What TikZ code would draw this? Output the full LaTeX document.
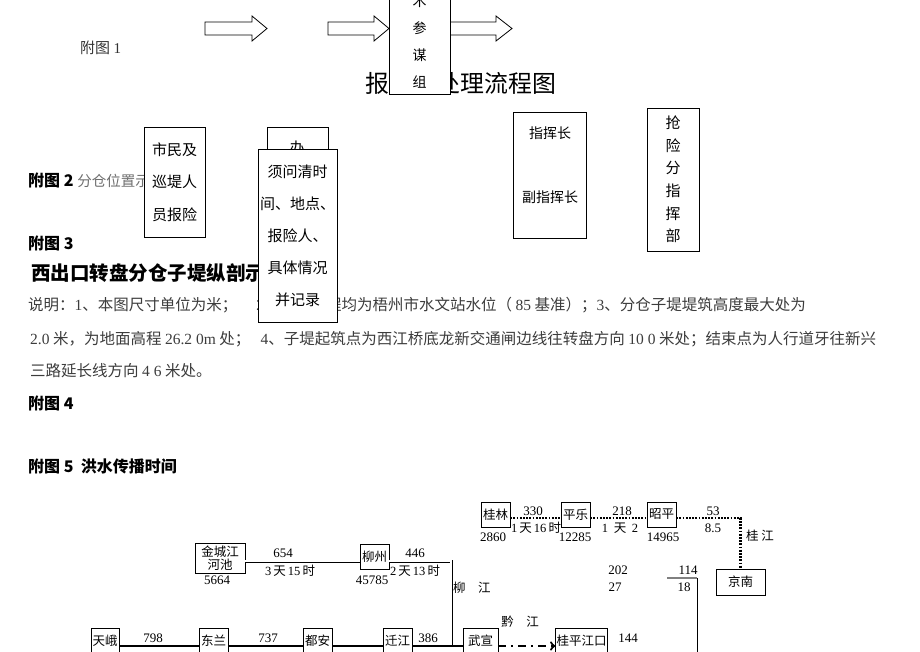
\documentclass[tikz,border=0pt]{standalone}
\usepackage{fontspec}
\setmainfont{Liberation Serif}
\newfontfamily\cjk{Noto Sans CJK SC}
\usetikzlibrary{shapes,arrows,positioning,calc}
\usepackage{xcolor}
\definecolor{textgray}{RGB}{60,60,60}
\definecolor{lightgray}{RGB}{110,110,110}
\newcommand{\numf}[1]{{\rmfamily #1}}

\begin{document}
\begin{tikzpicture}[x=1pt,y=-1pt,
    flowbox/.style={draw, fill=white, inner sep=0pt, font=\cjk\fontsize{15}{15}\selectfont},
    body/.style={anchor=west, inner sep=0pt, text=textgray, font=\cjk\fontsize{15.5}{15.5}\selectfont},
    head/.style={anchor=west, inner sep=0pt, font=\cjk\bfseries\fontsize{16}{16}\selectfont},
    stn/.style={draw, fill=white, inner sep=1pt, minimum height=25pt, font=\cjk\fontsize{12.5}{12.5}\selectfont},
    num/.style={inner sep=0pt, font=\rmfamily\fontsize{13}{13}\selectfont},
    clbl/.style={inner sep=0pt, font=\cjk\fontsize{12.5}{12.5}\selectfont},
    dotline/.style={line width=2.2pt, dash pattern=on 1.8pt off 1.4pt},
    dbl/.style={line width=0.7pt, double=white, double distance=1.6pt},
    mainline/.style={line width=2.2pt},
    dashline/.style={line width=2.2pt, dash pattern=on 8pt off 5pt on 2pt off 5pt}]
                \useasboundingbox (0,0) rectangle (920,651);
                \clip (0,0) rectangle (920,651);

                % Page text
                \node[body, text=black!80, font=\cjk\fontsize{15}{15}\selectfont] (fig1) at (80,48) {附图 \numf{1}};
                \node[head] (fig2) at (28,180) {附图 2 {\mdseries\color{lightgray}\fontsize{14.5}{14.5}\selectfont 分仓位置示意图}};
                \node[head] (fig3) at (28,243) {附图 3};
                \node[head, font=\cjk\bfseries\fontsize{19.5}{19.5}\selectfont] (fig3title) at (31,273) {西出口转盘分仓子堤纵剖示意图};
                \node[body] (note1) at (28,305) {说明：\numf{1}、本图尺寸单位为米；\quad\ \numf{2}、堤顶高程均为梧州市水文站水位（ \numf{85} 基准）；\numf{3}、分仓子堤堤筑高度最大处为};
                \node[body] (note2) at (30,339) {\numf{2.0} 米，为地面高程 \numf{26.2\ 0m} 处；\ \ \ \numf{4}、子堤起筑点为西江桥底龙新交通闸边线往转盘方向 \numf{10\ 0} 米处；结束点为人行道牙往新兴};
                \node[body] (note3) at (30,371) {三路延长线方向 \numf{4 6} 米处。};
                \node[head] (fig4) at (28,403) {附图 4};
                \node[head] (fig5) at (28,466) {附图 5\ \ 洪水传播时间};

                % Flow chart
                \node[inner sep=0pt, anchor=west, font=\cjk\fontsize{23.9}{23.9}\selectfont] (title) at (365,83) {报险\hspace{1em}处理流程图};
                \foreach \xa/\xb/\xc in {205/252/267, 328/374/389, 450/496/512}
                    \draw[fill=white, thick] (\xa,22) -- (\xb,22) -- (\xb,16) -- (\xc,28.5) -- (\xb,41) -- (\xb,35) -- (\xa,35) -- cycle;
                \node[flowbox, minimum width=61pt, minimum height=104pt, align=center, font=\cjk\fontsize{14}{27}\selectfont] (tech) at (419.5,42) {术\\参\\谋\\组};

                \node[flowbox, minimum width=61pt, minimum height=110pt, align=center, font=\cjk\fontsize{15}{32.5}\selectfont] (citizen) at (174.5,182) {市民及\\巡堤人\\员报险};
                \node[flowbox, anchor=north, minimum width=61pt, minimum height=73pt] (office) at (297.5,127) {};
                \node[inner sep=0pt, font=\cjk\fontsize{15}{15}\selectfont] (officetxt) at (297,148) {办};
                \node[flowbox, minimum width=79pt, minimum height=173pt, align=center, font=\cjk\fontsize{15}{32}\selectfont] (record) at (297.5,235.5) {须问清时\\间、地点、\\报险人、\\具体情况\\并记录};

                \node[flowbox, minimum width=73pt, minimum height=126pt] (chief) at (549.5,175) {};
                \node[inner sep=0pt, font=\cjk\fontsize{14}{14}\selectfont] (chieftxt) at (550,133) {指挥长};
                \node[inner sep=0pt, font=\cjk\fontsize{14}{14}\selectfont] (vicetxt) at (550,197) {副指挥长};
                \node[flowbox, minimum width=52pt, minimum height=143pt, align=center, font=\cjk\fontsize{15}{22.6}\selectfont] (branch) at (673,179.5) {抢\\险\\分\\指\\挥\\部};

                % Flood propagation
                \coordinate (topy) at (0,518);
                \coordinate (midy) at (0,561);
                \coordinate (mainy) at (0,646);
                \coordinate (lj) at (451,646);
                \coordinate (hstart) at (667,578);
                \coordinate (hbend) at (697,578);
                \coordinate (vend) at (697,660);

                \node[stn, minimum width=29pt] (guilin) at (495.5,514.5) {桂林};
                \node[stn, minimum width=29pt] (pingle) at (575.5,514.5) {平乐};
                \node[stn, minimum width=29pt] (zhaoping) at (661.5,514.5) {昭平};
                \node[stn, minimum width=49pt, minimum height=26pt] (jingnan) at (740.5,582) {京南};
                \node[stn, minimum width=50pt, minimum height=30pt, align=center, font=\cjk\fontsize{12.5}{11.5}\selectfont] (jincheng) at (220,558) {金城江\\河池};
                \node[stn, minimum width=29pt] (liuzhou) at (374.5,556.5) {柳州};
                \node[stn, minimum width=28pt, minimum height=26pt] (tiane) at (105,641) {天峨};
                \node[stn, minimum width=29pt, minimum height=26pt] (donglan) at (213.5,641) {东兰};
                \node[stn, minimum width=29pt, minimum height=26pt] (duan) at (317.5,641) {都安};
                \node[stn, minimum width=29pt, minimum height=26pt] (qianjiang) at (397.5,641) {迁江};
                \node[stn, minimum width=35pt, minimum height=26pt] (wuxuan) at (480.5,641) {武宣};
                \node[stn, minimum width=51pt, minimum height=26pt] (guiping) at (581.5,641) {桂平江口};

                \draw[dotline] (guilin.east |- topy) -- (pingle.west |- topy);
                \draw[dotline] (pingle.east |- topy) -- (zhaoping.west |- topy);
                \draw[dotline] (zhaoping.east |- topy) -- (jingnan.north |- topy) -- (jingnan.north);
                \draw[dbl] (jincheng.east |- midy) -- (liuzhou.west |- midy);
                \draw[dbl] (liuzhou.east |- midy) -- (lj |- midy) -- (lj);
                \draw[mainline] (tiane.east |- mainy) -- (donglan.west |- mainy);
                \draw[mainline] (donglan.east |- mainy) -- (duan.west |- mainy);
                \draw[mainline] (duan.east |- mainy) -- (qianjiang.west |- mainy);
                \draw[mainline] (qianjiang.east |- mainy) -- (wuxuan.west |- mainy);
                \draw[dashline, ->] (wuxuan.east |- mainy) -- (guiping.west |- mainy);
                \draw[gray, line width=1.3pt] (hstart) -- (hbend);
                \draw[line width=1pt] (hbend) -- (vend);

                % Distances and times
                \node[num] (d330) at (533,511) {330};
                \node[clbl] (t330) at (536,528) {\numf{1}\,天\,\numf{16}\,时};
                \node[num] (d218) at (622,511) {218};
                \node[clbl] (t218) at (620,528) {\numf{1}\ \ 天\ \ \numf{2}};
                \node[num] (d53) at (713,511) {53};
                \node[num] (t53) at (713,528) {8.5};
                \node[num] (a2860) at (493,537) {2860};
                \node[num] (a12285) at (575,537) {12285};
                \node[num] (a14965) at (663,537) {14965};
                \node[clbl] (guijiang) at (760,536) {桂\ 江};
                \node[num] (d654) at (283,553) {654};
                \node[clbl] (t654) at (290,571) {\numf{3}\,天\,\numf{15}\,时};
                \node[num] (d446) at (415,553) {446};
                \node[clbl] (t446) at (415,571) {\numf{2}\,天\,\numf{13}\,时};
                \node[num] (a5664) at (217,580) {5664};
                \node[num] (a45785) at (372,580) {45785};
                \node[clbl, anchor=west] (liujiang) at (453,588) {柳\quad 江};
                \node[num] (d202) at (618,570) {202};
                \node[num] (t27) at (615,587) {27};
                \node[num] (d114) at (688,570) {114};
                \node[num] (t18) at (684,587) {18};
                \node[clbl] (qianjiangriver) at (520,622) {黔\quad 江};
                \node[num] (d798) at (153,638) {798};
                \node[num] (d737) at (268,638) {737};
                \node[num] (d386) at (428,638) {386};
                \node[num] (d144) at (628,638) {144};
            \end{tikzpicture}
\end{document}
